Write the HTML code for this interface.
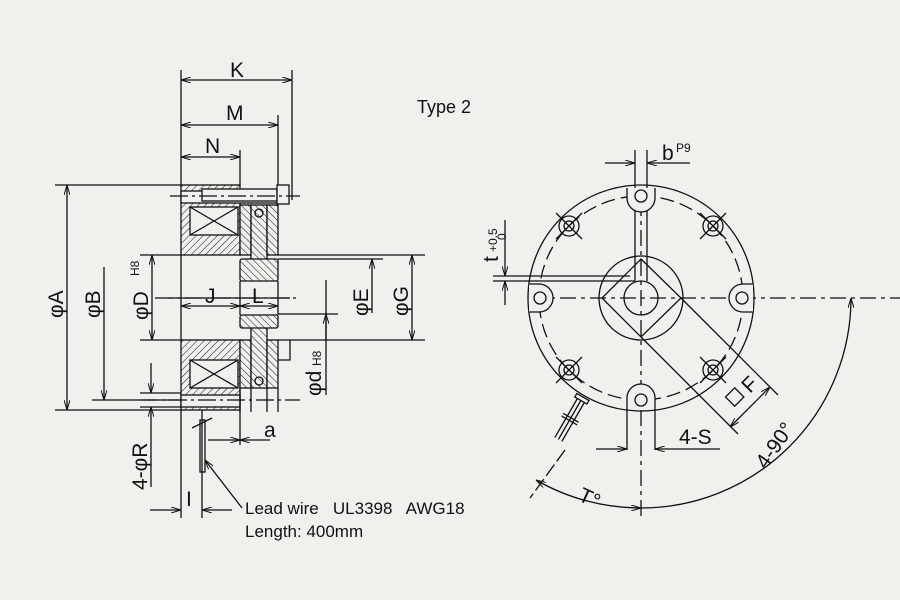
<!DOCTYPE html>
<html><head><meta charset="utf-8"><style>
html,body{margin:0;padding:0;background:#f1f0ec;}
svg{display:block}
text{font-family:"Liberation Sans",Arial,sans-serif;fill:#111;white-space:pre}
</style></head><body>
<svg width="900" height="600" viewBox="0 0 900 600" xmlns="http://www.w3.org/2000/svg">
<defs>
<pattern id="h" width="5" height="5" patternUnits="userSpaceOnUse" patternTransform="rotate(45)">
<rect width="5" height="5" fill="#f1f0ec"/><line x1="0" y1="0" x2="0" y2="5" stroke="#222" stroke-width="1.1"/></pattern>
<pattern id="h2" width="5" height="5" patternUnits="userSpaceOnUse" patternTransform="rotate(-45)">
<rect width="5" height="5" fill="#f1f0ec"/><line x1="0" y1="0" x2="0" y2="5" stroke="#222" stroke-width="1.1"/></pattern>
<marker id="a" viewBox="0 0 10 6" refX="10" refY="3" markerWidth="10" markerHeight="6" orient="auto-start-reverse" markerUnits="userSpaceOnUse">
<path d="M0,0 L10,3 L0,6" fill="none" stroke="#111" stroke-width="1"/></marker>
</defs>
<rect width="900" height="600" fill="#f1f0ec"/>
<g stroke="#111" stroke-width="1.3" fill="none">
<rect x="181" y="185" width="59" height="70" fill="url(#h)"/>
<rect x="190" y="207" width="48" height="28" fill="#f1f0ec"/>
<line x1="190" y1="207" x2="238" y2="235"/><line x1="190" y1="235" x2="238" y2="207"/>
<rect x="181" y="340" width="59" height="70" fill="url(#h)"/>
<rect x="190" y="360" width="48" height="28" fill="#f1f0ec"/>
<line x1="190" y1="360" x2="238" y2="388"/><line x1="190" y1="388" x2="238" y2="360"/>
<rect x="181" y="191" width="100" height="12" fill="#f1f0ec"/>
<rect x="202" y="189" width="75" height="12" fill="#f1f0ec"/>
<rect x="277" y="185" width="12" height="19" fill="#f1f0ec"/>
<rect x="181" y="395" width="59" height="12" fill="#f1f0ec"/>
<rect x="240" y="205" width="11" height="50" fill="url(#h2)"/>
<rect x="251" y="205" width="16" height="55" fill="url(#h2)"/>
<rect x="267" y="205" width="11" height="50" fill="url(#h2)"/>
<rect x="240" y="340" width="11" height="48" fill="url(#h2)"/>
<rect x="251" y="327" width="16" height="61" fill="url(#h2)"/>
<rect x="267" y="340" width="11" height="48" fill="url(#h2)"/>
<rect x="240" y="259" width="38" height="22" rx="2" fill="url(#h2)"/>
<rect x="240" y="315" width="38" height="13" rx="2" fill="url(#h2)"/>
<line x1="240" y1="281" x2="240" y2="315"/><line x1="278" y1="281" x2="278" y2="315"/>
<line x1="240" y1="388" x2="240" y2="412"/><line x1="251" y1="388" x2="251" y2="412"/>
<line x1="267" y1="388" x2="267" y2="412"/><line x1="278" y1="388" x2="278" y2="412"/>
<circle cx="259" cy="213" r="4"/><circle cx="259" cy="381" r="4"/>
<path d="M278 340 h12 v20 h-12"/>
<line x1="181" y1="255" x2="181" y2="340"/>
<line x1="155" y1="298" x2="300" y2="298" stroke-dasharray="18,4,3,4"/>
<line x1="170" y1="196" x2="300" y2="196" stroke-dasharray="18,4,3,4"/>
<line x1="140" y1="400" x2="300" y2="400" stroke-dasharray="18,4,3,4"/>
<line x1="181" y1="70" x2="181" y2="185"/><line x1="292" y1="70" x2="292" y2="200"/>
<line x1="278" y1="115" x2="278" y2="185"/><line x1="240" y1="150" x2="240" y2="185"/>
<line x1="55" y1="185" x2="181" y2="185"/><line x1="55" y1="410" x2="181" y2="410"/>
<line x1="92" y1="400" x2="181" y2="400"/>
<line x1="140" y1="255" x2="181" y2="255"/><line x1="140" y1="340" x2="181" y2="340"/>
<line x1="278" y1="255" x2="425" y2="255"/><line x1="290" y1="340" x2="425" y2="340"/>
<line x1="278" y1="259" x2="383" y2="259"/>
<line x1="278" y1="314" x2="338" y2="314"/>
<line x1="140" y1="393" x2="181" y2="393"/><line x1="140" y1="407" x2="181" y2="407"/>
<line x1="181" y1="410" x2="181" y2="518"/><line x1="240" y1="410" x2="240" y2="445"/>
<line x1="202" y1="410" x2="202" y2="518"/>
<rect x="200" y="420" width="5" height="52"/>
<line x1="192" y1="428" x2="212" y2="418"/>
<line x1="181" y1="80" x2="292" y2="80" marker-start="url(#a)" marker-end="url(#a)"/>
<line x1="181" y1="125" x2="278" y2="125" marker-start="url(#a)" marker-end="url(#a)"/>
<line x1="181" y1="157" x2="240" y2="157" marker-start="url(#a)" marker-end="url(#a)"/>
<line x1="67" y1="185" x2="67" y2="410" marker-start="url(#a)" marker-end="url(#a)"/>
<line x1="104" y1="267" x2="104" y2="400" marker-end="url(#a)"/>
<line x1="152" y1="255" x2="152" y2="340" marker-start="url(#a)" marker-end="url(#a)"/>
<line x1="151" y1="363" x2="151" y2="393" marker-end="url(#a)"/>
<line x1="151" y1="487" x2="151" y2="407" marker-end="url(#a)"/>
<line x1="181" y1="306" x2="240" y2="306" marker-start="url(#a)" marker-end="url(#a)"/>
<line x1="240" y1="306" x2="278" y2="306" marker-start="url(#a)" marker-end="url(#a)"/>
<line x1="168" y1="298" x2="290" y2="298"/>
<line x1="372" y1="259" x2="372" y2="313" marker-start="url(#a)"/>
<line x1="412" y1="255" x2="412" y2="340" marker-start="url(#a)" marker-end="url(#a)"/>
<line x1="326" y1="280" x2="326" y2="395"/>
<line x1="326" y1="340" x2="326" y2="314" marker-end="url(#a)"/>
<line x1="208" y1="440" x2="240" y2="440" marker-end="url(#a)"/>
<line x1="270" y1="440" x2="240" y2="440" marker-end="url(#a)"/>
<line x1="150" y1="510" x2="181" y2="510" marker-end="url(#a)"/>
<line x1="232" y1="510" x2="202" y2="510" marker-end="url(#a)"/>
<line x1="242" y1="508" x2="205" y2="460" marker-end="url(#a)"/>
<circle cx="641" cy="298" r="113"/>
<circle cx="641" cy="298" r="102" stroke-dasharray="14,6"/>
<circle cx="641" cy="298" r="42"/>
<circle cx="641" cy="298" r="17"/>
<path d="M641 259 L681 298 L641 337 L602 298 Z"/>
<line x1="530" y1="298" x2="900" y2="298" stroke-dasharray="16,5,4,5"/>
<line x1="641" y1="200" x2="641" y2="520" stroke-dasharray="16,5,4,5"/>
<line x1="635" y1="150" x2="635" y2="281"/><line x1="647" y1="150" x2="647" y2="281"/>
<line x1="493" y1="276" x2="630" y2="276"/><line x1="493" y1="281" x2="635" y2="281"/>
<g fill="#f1f0ec">
<path d="M627 188 v10 a14 14 0 0 0 28 0 v-10"/><circle cx="641" cy="196" r="6"/>
<path d="M627 408 v-10 a14 14 0 0 1 28 0 v10"/><circle cx="641" cy="400" r="6"/>
<path d="M529 284 h10 a14 14 0 0 1 0 28 h-10"/><circle cx="540" cy="298" r="6"/>
<path d="M753 284 h-10 a14 14 0 0 0 0 28 h10"/><circle cx="742" cy="298" r="6"/>
</g>
<line x1="627" y1="408" x2="627" y2="450"/><line x1="655" y1="408" x2="655" y2="450"/>
<g>
<circle cx="569" cy="226" r="10"/><circle cx="569" cy="226" r="5"/><line x1="556" y1="213" x2="582" y2="239"/><line x1="582" y1="213" x2="556" y2="239"/>
<circle cx="713" cy="226" r="10"/><circle cx="713" cy="226" r="5"/><line x1="700" y1="213" x2="726" y2="239"/><line x1="726" y1="213" x2="700" y2="239"/>
<circle cx="569" cy="370" r="10"/><circle cx="569" cy="370" r="5"/><line x1="556" y1="357" x2="582" y2="383"/><line x1="582" y1="357" x2="556" y2="383"/>
<circle cx="713" cy="370" r="10"/><circle cx="713" cy="370" r="5"/><line x1="700" y1="357" x2="726" y2="383"/><line x1="726" y1="357" x2="700" y2="383"/>
</g>
<g transform="rotate(30 580 400)">
<rect x="574" y="396" width="14" height="4"/>
<line x1="577" y1="400" x2="577" y2="445"/><line x1="581" y1="400" x2="581" y2="445"/><line x1="585" y1="400" x2="585" y2="445"/>
<line x1="572" y1="420" x2="590" y2="420"/><line x1="572" y1="423" x2="590" y2="423"/>
</g>
<line x1="565" y1="450" x2="530" y2="498" stroke-dasharray="14,4"/>
<line x1="681" y1="298" x2="778" y2="395"/>
<line x1="641" y1="337" x2="738" y2="434"/>
<line x1="770" y1="387" x2="730" y2="427" marker-start="url(#a)" marker-end="url(#a)"/>
<rect x="728" y="391" width="13" height="13" transform="rotate(-45 734 397)"/>
<line x1="605" y1="163" x2="635" y2="163" marker-end="url(#a)"/>
<line x1="690" y1="163" x2="647" y2="163" marker-end="url(#a)"/>
<line x1="505" y1="220" x2="505" y2="276" marker-end="url(#a)"/>
<line x1="505" y1="305" x2="505" y2="281" marker-end="url(#a)"/>
<line x1="596" y1="449" x2="627" y2="449" marker-end="url(#a)"/>
<line x1="720" y1="449" x2="655" y2="449" marker-end="url(#a)"/>
<path d="M851 298 A210 210 0 0 1 641 508" marker-start="url(#a)"/>
<path d="M641 508 A210 210 0 0 1 536 480" marker-start="url(#a)" marker-end="url(#a)"/>
</g>
<g font-size="21">
<text x="230" y="77">K</text>
<text x="226" y="120">M</text>
<text x="205" y="153">N</text>
<text x="205" y="303">J</text>
<text x="252" y="303">L</text>
<text x="264" y="437">a</text>
<text x="186" y="506">I</text>
<text x="417" y="113" font-size="18">Type 2</text>
<text x="662" y="160">b</text><text x="676" y="152" font-size="12">P9</text>
<text x="679" y="444">4-S</text>
<text transform="translate(63 318) rotate(-90)">φA</text>
<text transform="translate(100 318) rotate(-90)">φB</text>
<text transform="translate(148 320) rotate(-90)">φD</text>
<text transform="translate(139 276) rotate(-90)" font-size="12">H8</text>
<text transform="translate(147 490) rotate(-90)">4-φR</text>
<text transform="translate(368 316) rotate(-90)">φE</text>
<text transform="translate(408 316) rotate(-90)">φG</text>
<text transform="translate(321 396) rotate(-90)">φd</text>
<text transform="translate(321 366) rotate(-90)" font-size="12">H8</text>
<text transform="translate(498 262) rotate(-90)">t</text>
<text transform="translate(497 252) rotate(-90)" font-size="12">+0.5</text>
<text transform="translate(506 240) rotate(-90)" font-size="12">0</text>
<text transform="translate(750 394) rotate(-45)">F</text>
<text transform="translate(766 470) rotate(-55)">4-90°</text>
<text transform="translate(577 500) rotate(25)">T°</text>
<text x="245" y="514" font-size="17" xml:space="preserve">Lead wire   UL3398   AWG18</text>
<text x="245" y="537" font-size="17">Length: 400mm</text>
</g>
</svg>
</body></html>
